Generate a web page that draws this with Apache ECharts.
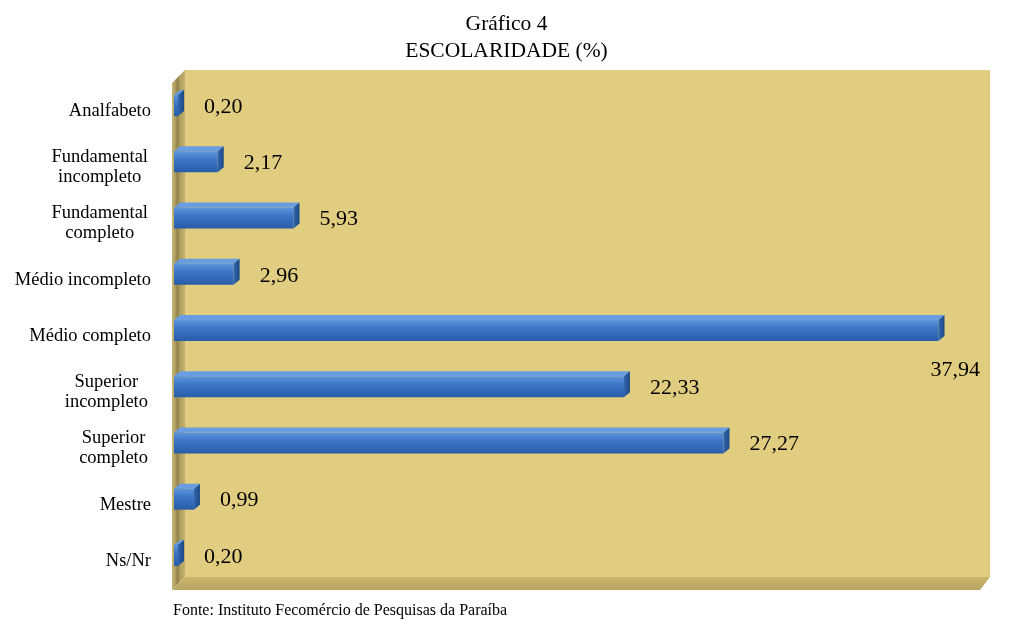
<!DOCTYPE html>
<html>
<head>
<meta charset="utf-8">
<script src="https://cdn.jsdelivr.net/npm/echarts@6/dist/echarts.min.js"></script>
<style>html,body{margin:0;padding:0;background:#fff;}#c{width:1013px;height:632px;}</style>
</head>
<body>
<div id="c"></div>
<script>
var categories = ['Analfabeto', 'Fundamental\nincompleto', 'Fundamental\ncompleto', 'Médio incompleto', 'Médio completo', 'Superior\nincompleto', 'Superior\ncompleto', 'Mestre', 'Ns/Nr'];
var values = [0.20, 2.17, 5.93, 2.96, 37.94, 22.33, 27.27, 0.99, 0.20];
var valueLabels = ['0,20', '2,17', '5,93', '2,96', '37,94', '22,33', '27,27', '0,99', '0,20'];

var FONT = '"Liberation Serif", "DejaVu Serif", serif';
var CAT_FONT = '18.5px ' + FONT;
var chart = echarts.init(document.getElementById('c'));

var measureCtx = document.createElement('canvas').getContext('2d');
measureCtx.font = CAT_FONT;
function blockWidth(txt) {
  return Math.max.apply(null, txt.split('\n').map(function (s) { return measureCtx.measureText(s).width; }));
}

function renderBar(params, api) {
  var idx = api.value(0);
  var v = api.value(1);
  var p0 = api.coord([0, idx]);
  var p1 = api.coord([v, idx]);
  var h = 26, dx = 6, dy = 5;
  var x0 = p0[0], x1 = p1[0], yc = p0[1];
  var yt = yc - h / 2, yb = yc + h / 2;
  var label = valueLabels[idx];
  var big = idx === 4;
  var lx = big ? x1 - 8 : x1 + 26;
  var ly = big ? yc + 42 : yc + 4;
  var cat = categories[idx];
  var multi = cat.indexOf('\n') >= 0;
  var right = x0 - 23;
  var w = blockWidth(cat);
  return {
    type: 'group',
    children: [
      { type: 'polygon', shape: { points: [[x0, yt + dy], [x0 + dx, yt], [x1 + dx, yt], [x1, yt + dy]] },
        style: { fill: '#6a9de0' } },
      { type: 'rect', shape: { x: x0, y: yt + dy, width: Math.max(x1 - x0, 0.5), height: h - dy },
        style: { fill: new echarts.graphic.LinearGradient(0, 0, 0, 1, [
          { offset: 0, color: '#5e95dc' }, { offset: 0.35, color: '#4079c9' }, { offset: 1, color: '#275ca8' }]) } },
      { type: 'polygon', shape: { points: [[x1, yt + dy], [x1 + dx, yt], [x1 + dx, yb - dy], [x1, yb]] },
        style: { fill: new echarts.graphic.LinearGradient(0, 0, 1, 0, [
          { offset: 0, color: '#3066b0' }, { offset: 1, color: '#1d4885' }]) } },
      { type: 'text', x: lx, y: ly,
        style: { text: label, font: '22px ' + FONT, fill: '#000', verticalAlign: 'middle', align: 'left' } },
      { type: 'text', x: multi ? right - w / 2 - 3 : right, y: yc + 8,
        style: { text: cat, font: CAT_FONT, fill: '#000', verticalAlign: 'middle', align: multi ? 'center' : 'right', lineHeight: 20 } }
    ]
  };
}

var data = values.map(function (v, i) { return [i, v]; });

chart.setOption({
  animation: false,
  backgroundColor: '#ffffff',
  title: {
    text: 'Gráfico 4\nESCOLARIDADE (%)',
    left: 'center', top: 6,
    textStyle: { fontFamily: FONT, fontSize: 21.5, fontWeight: 'normal', color: '#000', lineHeight: 27 }
  },
  graphic: [
    { type: 'rect', z: -10, shape: { x: 185, y: 70, width: 805, height: 507 }, style: { fill: '#e0cd7f' } },
    { type: 'polygon', z: -10, shape: { points: [[172, 83], [185, 70], [185, 577], [172, 590]] },
      style: { fill: new echarts.graphic.LinearGradient(0, 0, 1, 0, [
        { offset: 0, color: '#c8b878' }, { offset: 0.3, color: '#a8975a' }, { offset: 0.45, color: '#8d7e48' },
        { offset: 0.6, color: '#b09f60' }, { offset: 1, color: '#c2af6c' }]) } },
    { type: 'polygon', z: -10, shape: { points: [[172, 590], [185, 577], [990, 577], [980, 590]] },
      style: { fill: new echarts.graphic.LinearGradient(0, 0, 0, 1, [
        { offset: 0, color: '#c9b46c' }, { offset: 1, color: '#b8a460' }]) } },
    { type: 'text', left: 173, top: 603,
      style: { text: 'Fonte: Instituto Fecomércio de Pesquisas da Paraíba', font: '16px ' + FONT, fill: '#000' } }
  ],
  grid: { left: 174, top: 75, width: 806, height: 506, containLabel: false },
  xAxis: { type: 'value', min: 0, max: 40, show: false, splitLine: { show: false } },
  yAxis: {
    type: 'category', data: categories, inverse: true,
    axisLine: { show: false }, axisTick: { show: false }, axisLabel: { show: false }
  },
  series: [{
    type: 'custom',
    renderItem: renderBar,
    encode: { x: 1, y: 0 },
    data: data,
    clip: false
  }]
});
</script>
</body>
</html>
